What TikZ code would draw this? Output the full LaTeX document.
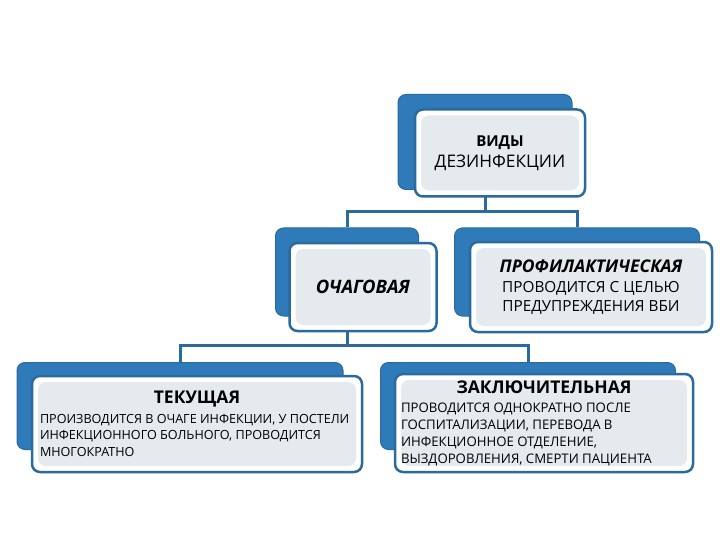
\documentclass[tikz,border=0pt]{standalone}
\usepackage{fontspec}
\setmainfont{Open Sans}
\definecolor{dkblue}{HTML}{2A6A9C}
\definecolor{midblue}{HTML}{2F7BBA}
\definecolor{paleblue}{HTML}{E5EAEE}
\newcommand\titlefont{\fontsize{17.5}{20}\selectfont\bfseries}
\newcommand\bodyfont{\fontsize{12.6}{16.5}\selectfont}
\newcommand\zaklfont{\fontsize{13.2}{17}\selectfont}
\newcommand\midfont{\fontsize{15.3}{19}\selectfont}
\begin{document}
\begin{tikzpicture}[x=1pt, y=-1pt,
  back/.style={draw=dkblue, fill=midblue, line width=1pt, rounded corners=8pt},
  front/.style={draw=dkblue, fill=white, line width=2.5pt, rounded corners=8pt,
                path picture={\fill[paleblue]
                  ([shift={(6pt,6pt)}]path picture bounding box.south west) rectangle
                  ([shift={(-6pt,-6pt)}]path picture bounding box.north east);}},
  conn/.style={draw=dkblue, line width=3pt}
]
  \useasboundingbox (0,0) rectangle (720,540);
  % back plates
  \node[back, minimum width=174pt, minimum height=95pt] (vidbk)   at (485,142) {};
  \node[back, minimum width=143pt, minimum height=88pt] (ochagbk) at (347,272) {};
  \node[back, minimum width=245pt, minimum height=88pt] (profbk)  at (577,272) {};
  \node[back, minimum width=326pt, minimum height=87pt] (tekbk)   at (180,406) {};
  \node[back, minimum width=295pt, minimum height=87pt] (zaklbk)  at (528,406) {};
  % connectors
  \coordinate (j1) at (485,212);
  \coordinate (j2) at (347,345);
  \draw[conn] (vidbk.center |- 0,196) -- (j1);
  \draw[conn] (ochagbk.north) |- (j1) -| (profbk.north);
  \draw[conn] (ochagbk.center |- 0,330) -- (j2);
  \draw[conn] (tekbk.north) |- (j2) -| (zaklbk.north);
  % boxes
  \node[front, minimum width=170pt, minimum height=87pt, align=center,
        font=\fontsize{17.3}{21}\selectfont] (vid) at (500,153)
        {{\fontsize{15}{18}\selectfont\bfseries ВИДЫ}\\ДЕЗИНФЕКЦИИ};
  \node[front, minimum width=147pt, minimum height=88pt] (ochag) at (363,287)
        {\fontsize{18.5}{20}\selectfont\bfseries\itshape ОЧАГОВАЯ};
  \node[front, minimum width=242pt, minimum height=90pt, align=center,
        font=\midfont] (prof) at (591,287)
        {{\titlefont\itshape ПРОФИЛАКТИЧЕСКАЯ}\\[1pt]
         ПРОВОДИТСЯ С ЦЕЛЬЮ\\ПРЕДУПРЕЖДЕНИЯ ВБИ};
  \node[front, minimum width=330pt, minimum height=96pt, text width=314pt] (tek) at (197,424)
        {\centering{\titlefont ТЕКУЩАЯ}\par\vspace{3pt}\raggedright\bodyfont
         ПРОИЗВОДИТСЯ В ОЧАГЕ ИНФЕКЦИИ, У ПОСТЕЛИ\\ИНФЕКЦИОННОГО БОЛЬНОГО, ПРОВОДИТСЯ\\МНОГОКРАТНО\par};
  \node[front, minimum width=298pt, minimum height=98pt, text width=286pt] (zakl) at (544,423)
        {\centering{\titlefont ЗАКЛЮЧИТЕЛЬНАЯ}\par\vspace{2pt}\raggedright\zaklfont
         ПРОВОДИТСЯ ОДНОКРАТНО ПОСЛЕ\\ГОСПИТАЛИЗАЦИИ, ПЕРЕВОДА В\\ИНФЕКЦИОННОЕ ОТДЕЛЕНИЕ,\\ВЫЗДОРОВЛЕНИЯ, СМЕРТИ ПАЦИЕНТА\par};
\end{tikzpicture}
\end{document}
